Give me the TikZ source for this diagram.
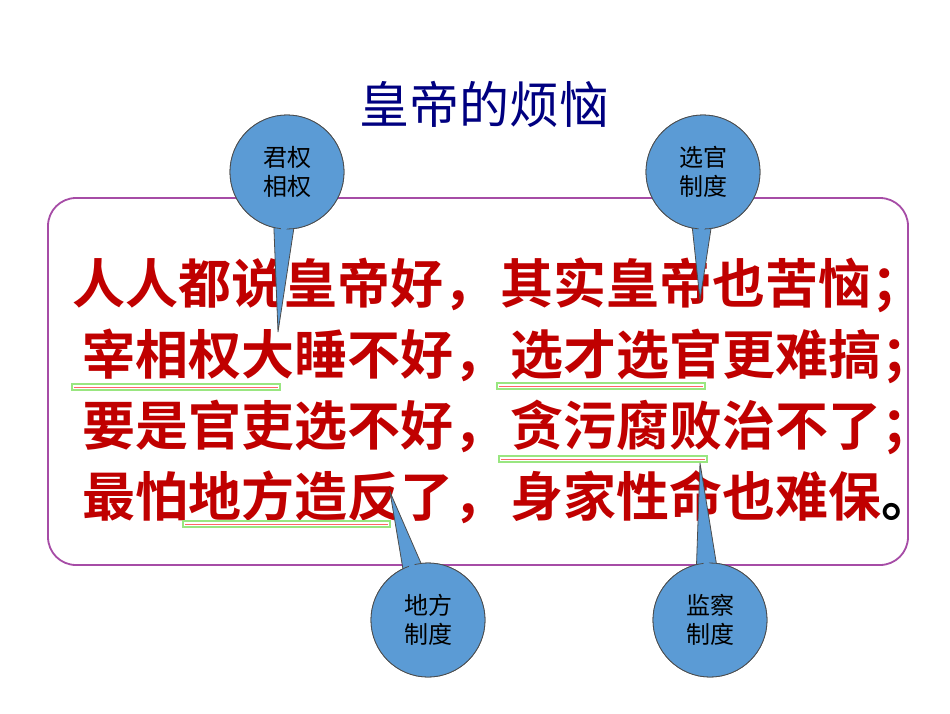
\documentclass[tikz,border=0pt]{standalone}
\usepackage{fontspec}
\newfontfamily\cjk{Noto Sans CJK SC}
\newfontfamily\cjkb{Noto Sans CJK SC Bold}
\usetikzlibrary{calc}
\definecolor{bred}{HTML}{C00000}
\definecolor{bblue}{HTML}{5B9BD5}
\newcommand{\cm}{，\hspace{4pt}}
\newcommand{\sm}{；}
\tikzset{
 line/.style={font=\cjkb\fontsize{53}{53}\selectfont, text=bred, anchor=west, inner sep=0},
 call/.style={circle, fill=bblue, draw=black!70, line width=0.8pt, minimum size=114pt, align=center, font=\cjk\fontsize{24}{29}\selectfont, inner sep=0},
 bar/.style={draw=green!60!olive!50, fill=white, line width=1.2pt},
}
\begin{document}
\begin{tikzpicture}[x=1pt,y=-1pt]
\useasboundingbox (0,0) rectangle (950,713);
\fill[white] (0,0) rectangle (950,713);
\node[font=\cjk\fontsize{50}{50}\selectfont, text=blue!50!black] (title) at (484,104) {皇帝的烦恼};
\draw[draw=violet!70!white, line width=1.8pt, rounded corners=28pt] (48,198) rectangle (908,565);
\node[line] (l1) at (72,285) {人人都说皇帝好\cm 其实皇帝也苦恼\sm};
\node[line] (l2) at (82,356) {宰相权大睡不好\cm 选才选官更难搞\sm};
\node[line] (l3) at (82,427) {要是官吏选不好\cm 贪污腐败治不了\sm};
\node[line] (l4) at (82,497) {最怕地方造反了\cm 身家性命也难保{\color{black}。}};
\foreach \a/\b/\y in {72/280/387, 183/390/524, 497/705/386, 499/707/459}{
 \draw[bar] (\a,\y-3) rectangle (\b,\y+3);
 \draw[red!60, line width=0.6pt] (\a+2,\y) -- (\b-2,\y);
}
\foreach \n/\cx/\cy/\tx/\ty/\t in {c1/287/172/278/332/{君权\\相权}, c2/703/172/700/300/{选官\\制度}, c3/428/620/390/492/{地方\\制度}, c4/710/620/700/463/{监察\\制度}}{
 \coordinate (\n tip) at (\tx,\ty);
 \node[call] (\n) at (\cx,\cy) {};
 \draw[fill=bblue, draw=black!70, line width=0.8pt] (\n tip) -- ($(\n)!40pt!-17:(\n tip)$) -- ($(\n)!40pt!17:(\n tip)$) -- cycle;
 \node[call] at (\n) {\t};
 \fill[bblue] ($(\n)!45pt!-13:(\n tip)$) -- ($(\n)!62pt!0:(\n tip)$) -- ($(\n)!45pt!13:(\n tip)$) -- cycle;
}
\end{tikzpicture}
\end{document}
